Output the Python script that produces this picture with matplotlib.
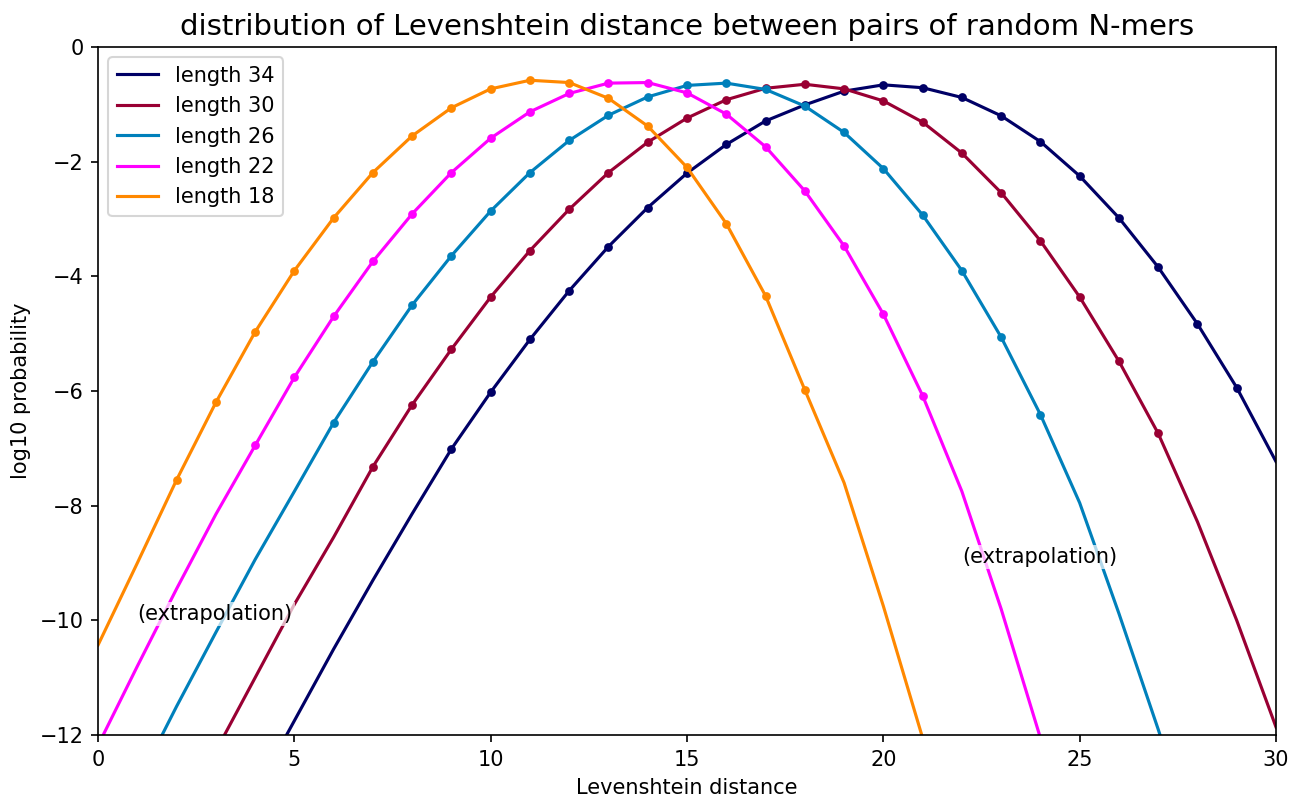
import numpy as np
import matplotlib
matplotlib.use("Agg")
import matplotlib.pyplot as plt

# Levenshtein distance 0..30, log10 probability per N-mer length
distance = np.arange(31)
nan = np.nan

logp_34 = [nan, nan, nan, nan, -13.0, -11.75, -10.5, -9.3, -8.14, -7.01,
           -6.02, -5.10, -4.25, -3.48, -2.80, -2.20, -1.70, -1.29, -1.01, -0.77,
           -0.66, -0.71, -0.88, -1.20, -1.65, -2.25, -2.98, -3.84, -4.83, -5.94,
           -7.23]
logp_30 = [nan, nan, nan, -12.28, -11.0, -9.72, -8.55, -7.32, -6.24, -5.27,
           -4.36, -3.55, -2.83, -2.19, -1.66, -1.24, -0.92, -0.72, -0.65, -0.73,
           -0.94, -1.31, -1.85, -2.54, -3.38, -4.36, -5.48, -6.74, -8.28, -10.0,
           -11.86]
logp_26 = [nan, -12.85, -11.5, -10.21, -8.94, -7.75, -6.55, -5.49, -4.50, -3.64,
           -2.86, -2.19, -1.63, -1.19, -0.87, -0.67, -0.63, -0.74, -1.03, -1.49,
           -2.12, -2.93, -3.90, -5.06, -6.41, -7.95, -9.88, -11.9, -14.0, nan,
           nan]
logp_22 = [-12.18, -10.8, -9.45, -8.15, -6.95, -5.76, -4.70, -3.74, -2.91, -2.19,
           -1.59, -1.13, -0.81, -0.63, -0.62, -0.80, -1.17, -1.74, -2.51, -3.47,
           -4.66, -6.08, -7.75, -9.8, -12.05, nan, nan, nan, nan, nan,
           nan]
logp_18 = [-10.43, -9.0, -7.55, -6.2, -4.97, -3.9, -2.98, -2.19, -1.55, -1.06,
           -0.73, -0.58, -0.62, -0.895, -1.38, -2.1, -3.08, -4.34, -5.98, -7.6,
           -9.75, -12.05, nan, nan, nan, nan, nan, nan, nan, nan,
           nan]

lengths = [34, 30, 26, 22, 18]
# range of distances that were actually sampled (rest is extrapolated)
sampled = [(9, 29), (7, 27), (6, 24), (4, 21), (2, 18)]
colors = ['#000066', '#990033', '#0080bb', '#ff00ff', '#ff8800']
series = [logp_34, logp_30, logp_26, logp_22, logp_18]

fig = plt.figure(figsize=(1292 / 150, 798 / 150), dpi=150)
ax = fig.add_axes([0.0759, 0.0789, 0.9117, 0.8622])

for L, ys, (lo, hi), c in zip(lengths, series, sampled, colors):
    ys = np.array(ys)
    ax.plot(distance, ys, color=c, lw=1.5, label='length %d' % L)
    ax.plot(distance[lo:hi + 1], ys[lo:hi + 1], 'o', color=c, ms=3.2)

box = dict(facecolor='white', edgecolor='none', alpha=0.7, pad=1)
ax.text(1, -10, '(extrapolation)', bbox=box)
ax.text(22, -9, '(extrapolation)', bbox=box)

ax.set_xlim(0, 30)
ax.set_ylim(-12, 0)
ax.set_xlabel('Levenshtein distance')
ax.set_ylabel('log10 probability')
ax.set_title('distribution of Levenshtein distance between pairs of random N-mers', fontsize=14)
ax.legend(loc='upper left')

fig.savefig('out.png', dpi=150)
